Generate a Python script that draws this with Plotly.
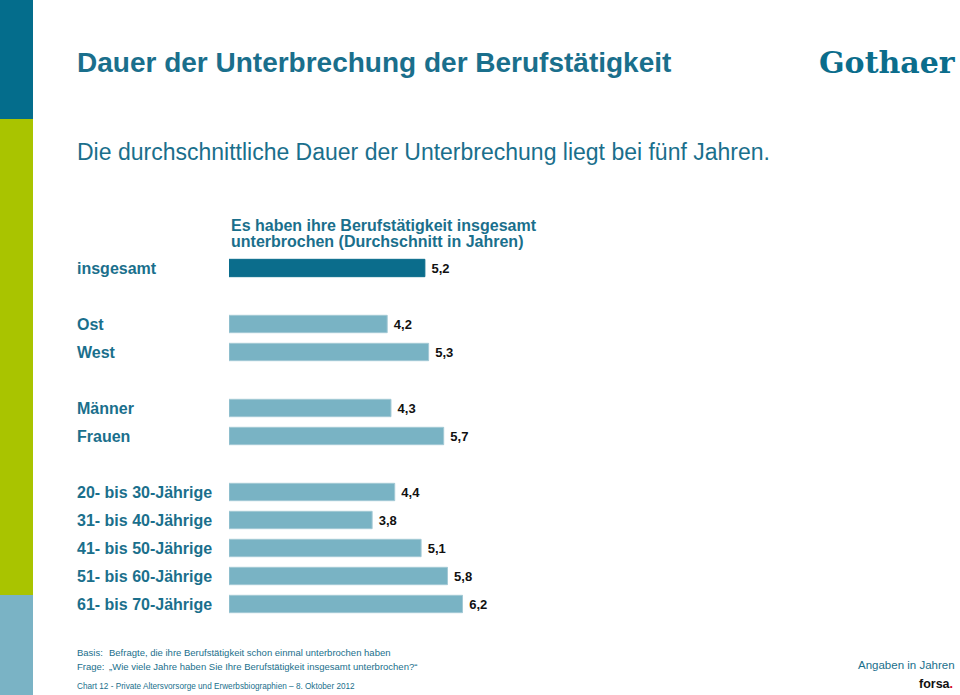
import plotly.graph_objects as go

# ---- data ----
categories = ["insgesamt", "Ost", "West", "Männer", "Frauen",
              "20- bis 30-Jährige", "31- bis 40-Jährige", "41- bis 50-Jährige",
              "51- bis 60-Jährige", "61- bis 70-Jährige"]
values = [5.2, 4.2, 5.3, 4.3, 5.7, 4.4, 3.8, 5.1, 5.8, 6.2]
row_positions = [0, 2, 3, 5, 6, 8, 9, 10, 11, 12]   # gaps between groups
groups = ["total", "region", "region", "sex", "sex", "age", "age", "age", "age", "age"]

title = "Dauer der Unterbrechung der Berufstätigkeit"
subtitle = "Die durchschnittliche Dauer der Unterbrechung liegt bei fünf Jahren."
header_lines = ["Es haben ihre Berufstätigkeit insgesamt",
                "unterbrochen (Durchschnitt in Jahren)"]

# ---- styling ----
W, H = 960, 695
PL, PR = 229, 794        # plot area x pixels
PT, PB = 254, 618        # plot area y pixels
TEAL = "#0b6d8c"
TEXT_TEAL = "#1a6f8c"
LIGHT = "#79b3c4"
GREEN = "#a9c400"
FONT = "Liberation Sans, Arial, sans-serif"

def px_x(p):
    return (p - PL) / (PR - PL)

def px_y(p):
    return (PB - p) / (PB - PT)

colors = [TEAL if g == "total" else LIGHT for g in groups]
line_colors = [TEAL if g == "total" else "#a3c9d5" for g in groups]

fig = go.Figure(go.Bar(
    x=values, y=row_positions, orientation="h",
    marker=dict(color=colors, line=dict(color=line_colors, width=1)),
    width=0.62,
    text=values, texttemplate="\u00a0<b>%{x:.1f}</b>", textposition="outside",
    textfont=dict(family=FONT, size=13, color="#111111"),
    cliponaxis=False, hoverinfo="skip",
))

annotations = []
for cat, pos in zip(categories, row_positions):
    annotations.append(dict(
        x=px_x(75), xref="paper", y=pos, yref="y", text=f"<b>{cat}</b>",
        xanchor="left", yanchor="middle", showarrow=False,
        font=dict(family=FONT, size=16, color=TEXT_TEAL)))

def txt(x, y, text, size, color=TEXT_TEAL, anchor="left"):
    annotations.append(dict(
        x=px_x(x), xref="paper", y=px_y(y), yref="paper", text=text,
        xanchor=anchor, yanchor="middle", showarrow=False, align=anchor,
        font=dict(family=FONT, size=size, color=color)))

txt(75, 62, f"<b>{title}</b>", 28)
txt(75, 152, subtitle, 23)
txt(229, 225, f"<b>{header_lines[0]}</b>", 16)
txt(229, 242, f"<b>{header_lines[1]}</b>", 16)
txt(75, 652, "Basis:", 9.5)
txt(107, 652, "Befragte, die ihre Berufstätigkeit schon einmal unterbrochen haben", 9.5)
txt(75, 666, "Frage:", 9.5)
txt(107, 666, "„Wie viele Jahre haben Sie Ihre Berufstätigkeit insgesamt unterbrochen?“", 9.5)
txt(75, 686, "Chart 12 - Private Altersvorsorge und Erwerbsbiographien – 8. Oktober 2012", 8.2)
txt(957, 665, "Angaben in Jahren", 11.5, anchor="right")
txt(955, 684, "<b>forsa<span style='color:#d0001b'>.</span></b>", 12.5, color="#111111", anchor="right")
annotations.append(dict(
    x=px_x(958), xref="paper", y=px_y(62), yref="paper", text="<b>Gothaer</b>",
    xanchor="right", yanchor="middle", showarrow=False,
    font=dict(family="DejaVu Serif, serif", size=30, color=TEAL)))

shapes = [
    dict(type="rect", xref="paper", yref="paper", x0=px_x(0), x1=px_x(33),
         y0=px_y(0), y1=px_y(119), fillcolor="#046d8c", line=dict(width=0), layer="below"),
    dict(type="rect", xref="paper", yref="paper", x0=px_x(0), x1=px_x(33),
         y0=px_y(119), y1=px_y(595), fillcolor=GREEN, line=dict(width=0), layer="below"),
    dict(type="rect", xref="paper", yref="paper", x0=px_x(0), x1=px_x(33),
         y0=px_y(595), y1=px_y(695), fillcolor="#7ab3c5", line=dict(width=0), layer="below"),
]

fig.update_layout(
    width=W, height=H,
    margin=dict(l=PL, r=W - PR, t=PT, b=H - PB, pad=0),
    paper_bgcolor="white", plot_bgcolor="white",
    separators=",.",
    showlegend=False,
    xaxis=dict(range=[0, 15], visible=False, fixedrange=True),
    yaxis=dict(range=[12.5, -0.5], visible=False, fixedrange=True),
    annotations=annotations, shapes=shapes,
    font=dict(family=FONT),
)

fig.write_html(
    "out.html",
    config={"displayModeBar": False},
    post_script="document.body.style.margin='0';document.body.style.padding='0';"
                "document.body.style.overflow='hidden';",
)
